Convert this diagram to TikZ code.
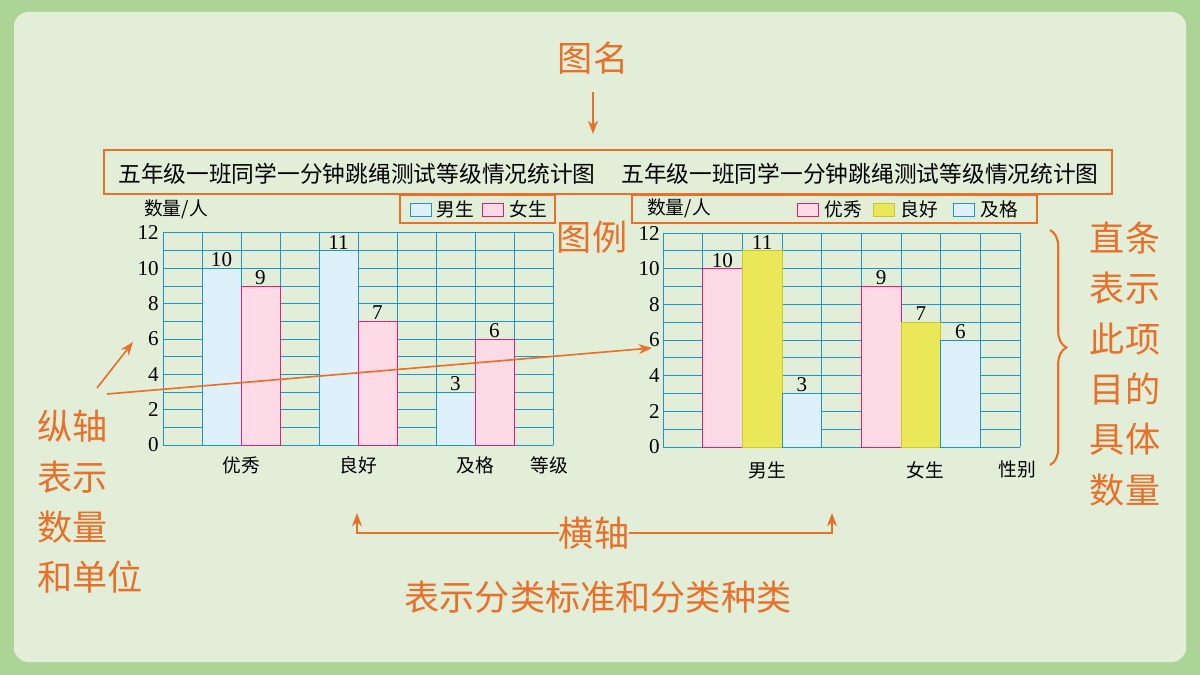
\documentclass[tikz,border=0pt]{standalone}
\usepackage{fontspec}
\setmainfont{Liberation Serif}
\newfontfamily\cjk{Noto Sans CJK SC}
\usetikzlibrary{arrows.meta,decorations.pathreplacing}
\definecolor{bgpanel}{RGB}{226,238,216}
\definecolor{bgframe}{RGB}{172,212,150}
\definecolor{notec}{RGB}{232,112,40}
\definecolor{gridc}{RGB}{28,150,205}
\definecolor{boyc}{RGB}{222,240,250}
\definecolor{girlc}{RGB}{252,218,230}
\definecolor{girle}{RGB}{225,30,120}
\definecolor{goodc}{RGB}{234,232,88}
\definecolor{goode}{RGB}{200,200,40}
\begin{document}
\begin{tikzpicture}[x=0.03cm,y=-0.03cm]
    \tikzstyle{remark}=[notec,font=\cjk\fontsize{30}{34}\selectfont,inner sep=0pt]
    \tikzstyle{arr}=[notec,line width=1.4pt,-{Stealth[length=4mm,width=3mm]}]
    \tikzstyle{frame}=[draw=notec,line width=1.8pt]
    \tikzstyle{lab}=[font=\cjk\fontsize{16}{18}\selectfont,inner sep=1pt]
    \tikzstyle{num}=[font=\fontsize{18}{20}\selectfont,inner sep=1pt]
    \tikzstyle{grid}=[gridc,thick]
    \tikzstyle{boy}=[fill=boyc,draw=gridc,thick]
    \tikzstyle{girl}=[fill=girlc,draw=girle,thick]
    \tikzstyle{good}=[fill=goodc,draw=goode,thick]
    \fill[bgframe] (0,0) rectangle (1200,675);
    \fill[bgpanel,rounded corners=12] (14,12) rectangle (1186,662);
    % titles
    \draw[frame] (104,150) rectangle (1112,194);
    \node (title1) at (357,174) [lab,font=\cjk\fontsize{19.4}{22}\selectfont] {五年级一班同学一分钟跳绳测试等级情况统计图};
    \node (title2) at (860,174) [lab,font=\cjk\fontsize{19.4}{22}\selectfont] {五年级一班同学一分钟跳绳测试等级情况统计图};
    % left chart: grid
    \foreach \i in {0,...,12} \draw[grid] (163,{445-\i*17.67}) -- (553,{445-\i*17.67});
    \foreach \j in {0,...,10} \draw[grid] ({163+\j*39},233) -- ({163+\j*39},445);
    \foreach \c/\v/\s in {1/10/boy,2/9/girl,4/11/boy,5/7/girl,7/3/boy,8/6/girl} {
      \draw[\s] ({163+\c*39},445) rectangle ({202+\c*39},{445-\v*17.67});
      \node[num,above] at ({182.5+\c*39},{445-\v*17.67}) {\v};
    }
    \foreach \i in {0,2,...,12} \node[num,left] at (160,{445-\i*17.67}) {\i};
    \node (yleft) at (176,209) [lab] {数量/人};
    \node (c1) at (241,465) [lab] {优秀};
    \node (c2) at (358,465) [lab] {良好};
    \node (c3) at (475,465) [lab] {及格};
    \node (c4) at (549,465) [lab] {等级};
    \draw[frame] (400,195) rectangle (555,223);
    \draw[boy] (410,203) rectangle (431,216);
    \node (kboy) at (455,209) [lab] {男生};
    \draw[girl] (482,203) rectangle (503,216);
    \node (kgirl) at (528,209) [lab] {女生};
    % right chart: grid
    \foreach \i in {0,...,12} \draw[grid] (663,{447-\i*17.83}) -- (1020,{447-\i*17.83});
    \foreach \j in {0,...,9} \draw[grid] ({663+\j*39.67},233) -- ({663+\j*39.67},447);
    \foreach \c/\v/\s in {1/10/girl,2/11/good,3/3/boy,5/9/girl,6/7/good,7/6/boy} {
      \draw[\s] ({663+\c*39.67},447) rectangle ({702.67+\c*39.67},{447-\v*17.83});
      \node[num,above] at ({682.8+\c*39.67},{447-\v*17.83}) {\v};
    }
    \foreach \i in {0,2,...,12} \node[num,left] at (661,{447-\i*17.83}) {\i};
    \draw[frame] (632,195) rectangle (1037,223);
    \node (yright) at (679,208) [lab] {数量/人};
    \draw[girl] (797,203) rectangle (818,216);
    \node (kgood1) at (843,209) [lab] {优秀};
    \draw[good] (873,203) rectangle (894,216);
    \node (kgood2) at (919,209) [lab] {良好};
    \draw[boy] (953,203) rectangle (974,216);
    \node (kgood3) at (999,209) [lab] {及格};
    \node (g1) at (767,470) [lab] {男生};
    \node (g2) at (925,470) [lab] {女生};
    \node (g3) at (1017,469) [lab] {性别};
    % notes
    \node (name) at (593,58) [remark] {图名};
    \coordinate (namestart) at (593,92);
    \coordinate (nameend) at (593,134);
    \draw[arr] (namestart) -- (nameend);
    \node (legend) at (592,237) [remark] {图例};
    \node (yaxis) at (37,410) [remark,anchor=north west,align=left] {纵轴\\[9pt]表示\\[9pt]数量\\[9pt]和单位};
    \coordinate (ytip) at (133,342);
    \coordinate (ytail) at (97,388);
    \draw[arr] (ytail) -- (ytip);
    \coordinate (ltail) at (107,394);
    \coordinate (ltip) at (652,348);
    \draw[arr] (ltail) -- (ltip);
    \draw[notec,line width=1.8pt,decorate,decoration={brace,amplitude=14pt}] (1050,230) -- (1050,465);
    \node (bar) at (1125,364) [remark,align=center] {直条\\[9pt]表示\\[9pt]此项\\[9pt]目的\\[9pt]具体\\[9pt]数量};
    \node (xaxis) at (594,533) [remark] {横轴};
    \coordinate (xl) at (357,513);
    \coordinate (xr) at (832,513);
    \draw[arr] (xaxis.west) -| (xl);
    \draw[arr] (xaxis.east) -| (xr);
    \node (xnote) at (598,597) [remark] {表示分类标准和分类种类};
\end{tikzpicture}
\end{document}
